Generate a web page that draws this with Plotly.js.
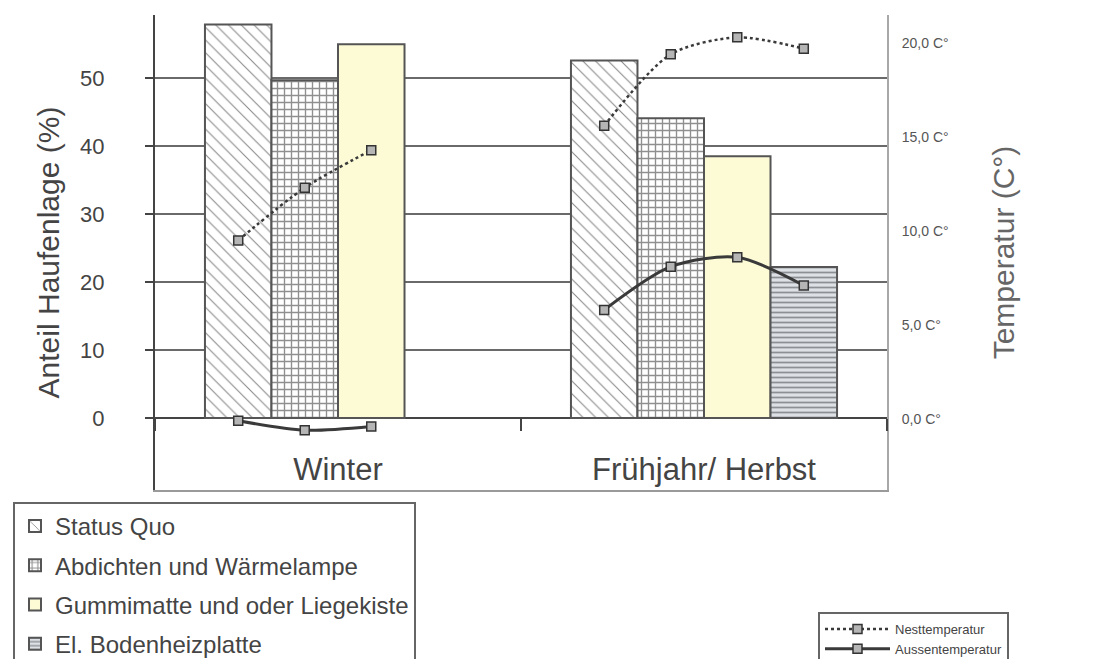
<!DOCTYPE html>
<html>
<head>
<meta charset="utf-8">
<script src="https://cdn.plot.ly/plotly-3.0.1.min.js"></script>
<style>
  html, body { margin: 0; padding: 0; background: #ffffff; }
  #chart { width: 1098px; height: 659px; }
</style>
</head>
<body>
<div id="chart"></div>
<script>
// ---- Data ----
const categories = ['Winter', 'Frühjahr/ Herbst'];

const statusQuo       = [57.9, 52.6];
const abdichten       = [49.7, 44.1];
const gummimatte      = [55.0, 38.5];
const bodenheizplatte = [null, 22.2];

// Temperatures (°C), one value per bar slot in each category
const nestWinter      = [9.5, 12.3, 14.3];
const nestFruehjahr   = [15.6, 19.4, 20.3, 19.7];
const aussenWinter    = [-0.1, -0.6, -0.4];
const aussenFruehjahr = [5.8, 8.1, 8.6, 7.1];

const percentTicks   = [0, 10, 20, 30, 40, 50];
const tempTicks      = [0, 5, 10, 15, 20];
const tempTickLabels = ['0,0 C°', '5,0 C°', '10,0 C°', '15,0 C°', '20,0 C°'];

// ---- Layout constants ----
const FONT = 'Liberation Sans, Arial, sans-serif';
const N_SERIES = 4;
const BARGAP = 0.273;
const SLOT_W = (1 - BARGAP) / N_SERIES;
const Y_RANGE = [-10.6, 59.3];
const Y2_RANGE = [-3.78, 21.49];

// place temperature points at the centres of the bar slots of each category
function lineXY(groups) {
  const xs = [], ys = [];
  groups.forEach((vals, ci) => {
    vals.forEach((v, j) => {
      xs.push(ci + (j - (N_SERIES - 1) / 2) * SLOT_W);
      ys.push(v);
    });
    xs.push(null); ys.push(null);
  });
  return { xs, ys };
}

const barLine = { color: '#555555', width: 2 };

const traces = [
  {
    type: 'bar', name: 'Status Quo', x: categories, y: statusQuo,
    legendgroup: 'g1',
    marker: { color: '#ffffff', line: barLine,
      pattern: { shape: '\\', fgcolor: '#8a8a8a', bgcolor: '#ffffff', size: 9, solidity: 0.12 } }
  },
  {
    type: 'bar', name: 'Abdichten und Wärmelampe', x: categories, y: abdichten,
    legendgroup: 'g2',
    marker: { color: '#ffffff', line: barLine,
      pattern: { shape: '+', fgcolor: '#8f8f8f', bgcolor: '#ffffff', size: 7, solidity: 0.35 } }
  },
  {
    type: 'bar', name: 'Gummimatte und oder Liegekiste', x: categories, y: gummimatte,
    legendgroup: 'g3',
    marker: { color: '#fcfbd6', line: barLine }
  },
  {
    type: 'bar', name: 'El. Bodenheizplatte', x: categories, y: bodenheizplatte,
    legendgroup: 'g4',
    marker: { color: '#d6dadf', line: barLine,
      pattern: { shape: '-', fgcolor: '#8c8f94', bgcolor: '#dde0e4', size: 5, solidity: 0.35 } }
  }
];

const nest = lineXY([nestWinter, nestFruehjahr]);
const aussen = lineXY([aussenWinter, aussenFruehjahr]);

traces.push({
  type: 'scatter', mode: 'lines+markers', name: 'Nesttemperatur',
  x: nest.xs, y: nest.ys, xaxis: 'x2', yaxis: 'y2', legend: 'legend2',
  connectgaps: false,
  line: { color: '#3a3a3a', width: 2.5, dash: 'dot', shape: 'spline', smoothing: 0.8 },
  marker: { symbol: 'square', size: 9, color: '#b5b5b5', line: { color: '#333333', width: 1.5 } }
});
traces.push({
  type: 'scatter', mode: 'lines+markers', name: 'Aussentemperatur',
  x: aussen.xs, y: aussen.ys, xaxis: 'x2', yaxis: 'y2', legend: 'legend2',
  connectgaps: false,
  line: { color: '#3a3a3a', width: 3, shape: 'spline', smoothing: 0.8 },
  marker: { symbol: 'square', size: 9, color: '#b5b5b5', line: { color: '#333333', width: 1.5 } }
});

const zeroFrac = (0 - Y_RANGE[0]) / (Y_RANGE[1] - Y_RANGE[0]);

const layout = {
  width: 1098, height: 659,
  margin: { l: 155, r: 211, t: 15, b: 169, autoexpand: false },
  paper_bgcolor: '#ffffff', plot_bgcolor: '#ffffff',
  font: { family: FONT, color: '#444444' },
  barmode: 'group', bargap: BARGAP, bargroupgap: 0,
  showlegend: true,
  xaxis: {
    type: 'category', anchor: 'free', position: zeroFrac,
    range: [-0.5, 1.5],
    showline: false, showgrid: false, zeroline: false,
    ticks: 'outside', tickson: 'boundaries', ticklen: 12, tickwidth: 2, tickcolor: '#444444',
    tickfont: { family: FONT, size: 31, color: '#444444' },
    ticklabelstandoff: 30
  },
  xaxis2: {
    overlaying: 'x', anchor: 'y', side: 'bottom', range: [-0.5, 1.5],
    showline: true, linecolor: '#9a9a9a', linewidth: 2,
    showticklabels: false, ticks: '', showgrid: false, zeroline: false
  },
  yaxis: {
    range: Y_RANGE, tickvals: percentTicks,
    showgrid: true, gridcolor: '#6a6a6a', gridwidth: 2,
    zeroline: true, zerolinecolor: '#444444', zerolinewidth: 2,
    showline: true, linecolor: '#444444', linewidth: 2,
    ticks: 'outside', ticklen: 8, tickwidth: 2, tickcolor: '#444444',
    tickfont: { family: FONT, size: 22, color: '#444444' },
    ticklabelstandoff: 36,
    title: { text: 'Anteil Haufenlage (%)', font: { family: FONT, size: 30, color: '#444444' }, standoff: 12 }
  },
  yaxis2: {
    overlaying: 'y', side: 'right', anchor: 'x',
    range: Y2_RANGE, tickvals: tempTicks, ticktext: tempTickLabels,
    showgrid: false, zeroline: false,
    showline: true, linecolor: '#a8a8a8', linewidth: 2,
    ticks: '', ticklabelstandoff: 10,
    tickfont: { family: FONT, size: 14, color: '#555555' },
    title: { text: 'Temperatur (C°)', font: { family: FONT, size: 30, color: '#666666' }, standoff: 45 }
  },
  legend: {
    x: (13 - 155) / 732, xanchor: 'left',
    y: (490 - 502) / 475, yanchor: 'top',
    bgcolor: '#ffffff', bordercolor: '#666666', borderwidth: 2,
    font: { family: FONT, size: 24, color: '#444444' },
    traceorder: 'grouped', tracegroupgap: 5
  },
  legend2: {
    x: (818 - 155) / 732, xanchor: 'left',
    y: (490 - 612) / 475, yanchor: 'top',
    bgcolor: '#ffffff', bordercolor: '#666666', borderwidth: 2,
    font: { family: FONT, size: 13, color: '#444444' },
    itemwidth: 65
  }
};

Plotly.newPlot('chart', traces, layout, { displayModeBar: false, staticPlot: true });
</script>
</body>
</html>
